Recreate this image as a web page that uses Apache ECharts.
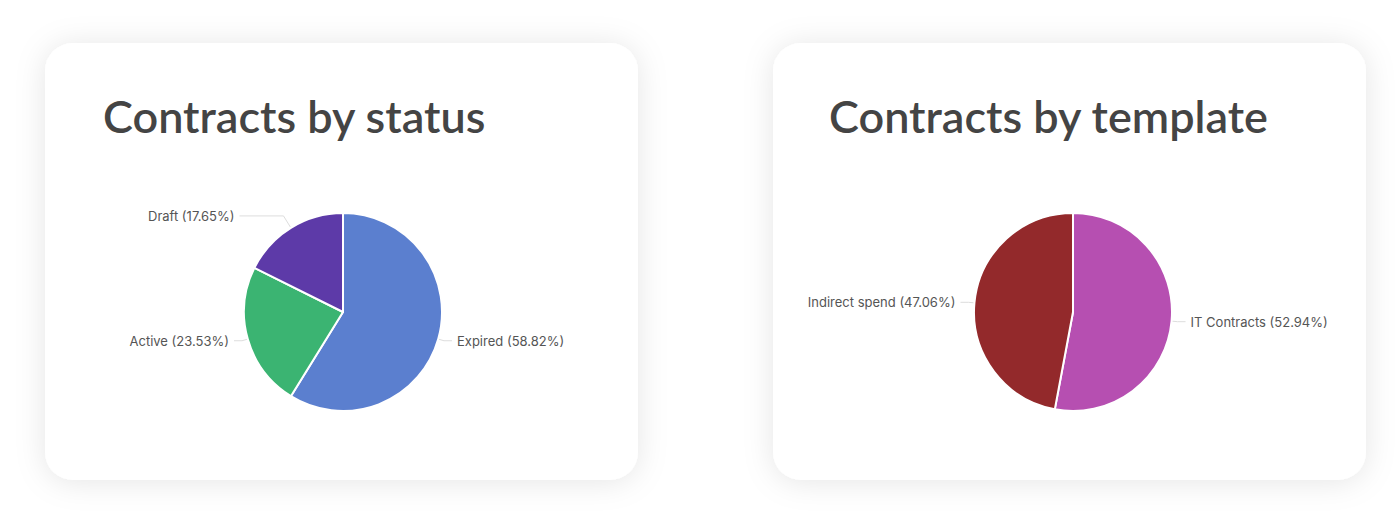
<!DOCTYPE html>
<html>
<head>
<meta charset="utf-8">
<script src="https://cdn.jsdelivr.net/npm/echarts@6/dist/echarts.min.js"></script>
<style>
html,body{margin:0;padding:0;background:#fff;}
#chart{width:1400px;height:514px;}
</style>
</head>
<body>
<div id="chart"></div>
<script>
const statusCategories = ['Expired', 'Active', 'Draft'];
const statusValues = [10, 4, 3];
const statusColors = ['#5b7fcf', '#3bb472', '#5d3aa8'];

const templateCategories = ['IT Contracts', 'Indirect spend'];
const templateValues = [9, 8];
const templateColors = ['#b64fb1', '#93292b'];

const titles = ['Contracts by status', 'Contracts by template'];

const chart = echarts.init(document.getElementById('chart'), null, {renderer: 'svg'});

function buildData(cats, vals, colors) {
  return cats.map((c, i) => ({name: c, value: vals[i], itemStyle: {color: colors[i]}}));
}

const statusData = buildData(statusCategories, statusValues, statusColors);
statusData[2].labelLine = {length: 14, length2: 44};

const templateData = buildData(templateCategories, templateValues, templateColors);

const labelCfg = {
  show: true,
  position: 'outside',
  formatter: '{b} ({d}%)',
  color: '#555',
  fontSize: 13,
  fontFamily: 'Inter, "Open Sans", sans-serif'
};
const labelLineCfg = {show: true, length: 6, length2: 8, lineStyle: {color: '#ddd', width: 1}};

const titleStyle = {fontSize: 45, fontWeight: 600, color: '#444', fontFamily: 'Lato, sans-serif'};

chart.setOption({
  animation: false,
  graphic: [
    {type: 'rect', z: 0, shape: {x: 45, y: 43, width: 593, height: 437, r: 28},
     style: {fill: '#fff', shadowBlur: 30, shadowColor: 'rgba(0,0,0,0.10)', shadowOffsetY: 2}},
    {type: 'rect', z: 0, shape: {x: 773, y: 43, width: 593, height: 437, r: 28},
     style: {fill: '#fff', shadowBlur: 30, shadowColor: 'rgba(0,0,0,0.10)', shadowOffsetY: 2}}
  ],
  title: [
    {text: titles[0], left: 98, top: 88, textStyle: titleStyle},
    {text: titles[1], left: 824, top: 88, textStyle: titleStyle}
  ],
  series: [
    {
      type: 'pie', center: [343, 312], radius: 99, startAngle: 90, clockwise: true,
      data: statusData,
      itemStyle: {borderColor: '#fff', borderWidth: 2},
      label: labelCfg, labelLine: labelLineCfg,
      emphasis: {disabled: true}
    },
    {
      type: 'pie', center: [1073, 312], radius: 99, startAngle: 90, clockwise: true,
      data: templateData,
      itemStyle: {borderColor: '#fff', borderWidth: 2},
      label: labelCfg, labelLine: labelLineCfg,
      emphasis: {disabled: true}
    }
  ]
});
</script>
</body>
</html>
